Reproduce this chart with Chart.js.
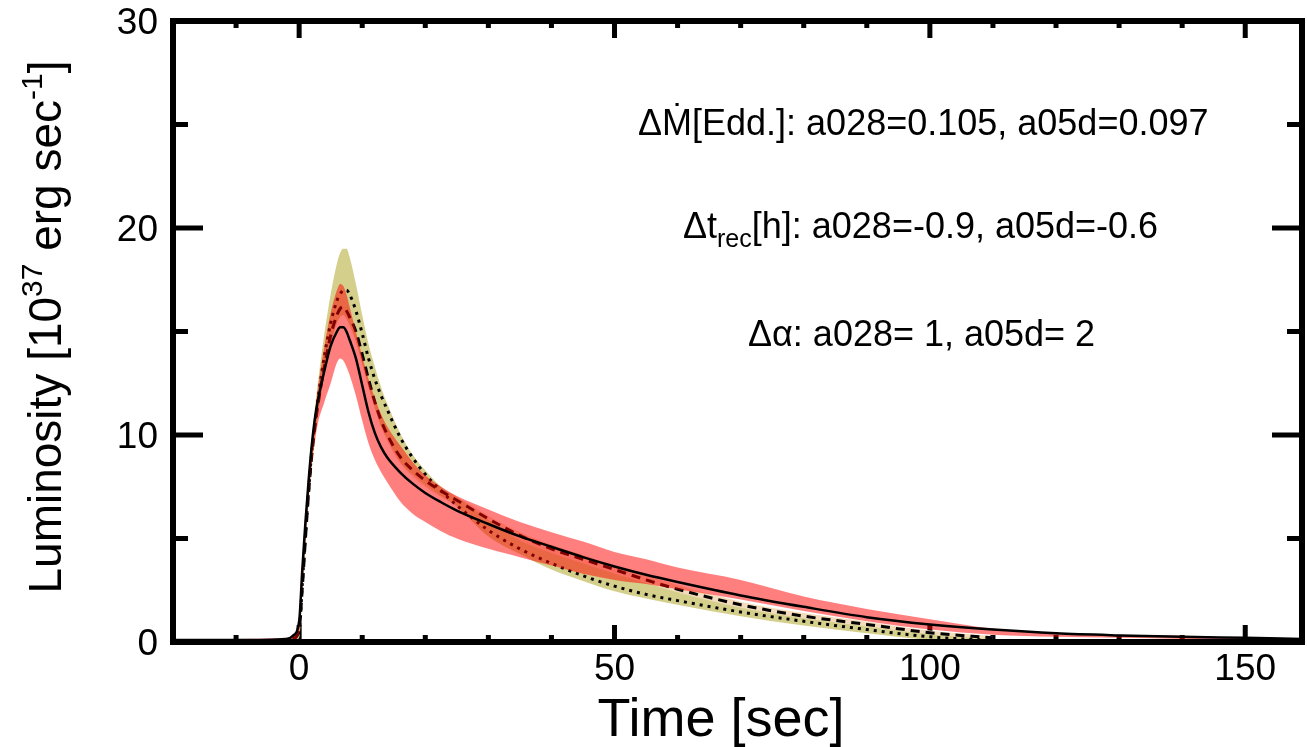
<!DOCTYPE html>
<html lang="en">
  <head>
    <meta charset="UTF-8" />
    <title>Luminosity vs Time</title>
    <script src="https://cdn.jsdelivr.net/npm/chart.js"></script>
    <style>
      body {
        margin: 0;
        background: #ffffff;
      }
      canvas {
        display: block;
      }
    </style>
  </head>
  <body>
    <canvas id="lcChart" width="1307" height="747"></canvas>

    <script>
      // time axis [sec]
      const time = [
        -20, -10, -2, -1, 0, 0.5, 1, 1.5, 2, 2.5, 3, 4, 5, 6, 6.5, 7, 7.5, 8,
        9, 10, 11, 12, 13, 14, 16, 18, 20, 22.5, 25, 30, 35, 40, 45, 50, 55,
        60, 70, 80, 90, 100, 110, 120, 130, 140, 150, 159,
      ];

      // luminosity [1e37 erg/s]
      const solidLum = [
        0.1, 0.1, 0.15, 0.3, 1.0, 3.5, 5.8, 7.8, 9.5, 10.8, 11.7, 13.1, 14.3,
        15.0, 15.2, 15.2, 15.0, 14.6, 13.7, 12.4, 11.1, 10.1, 9.4, 8.9, 8.2,
        7.65, 7.2, 6.75, 6.35, 5.7, 5.1, 4.6, 4.1, 3.65, 3.25, 2.9, 2.25, 1.7,
        1.2, 0.85, 0.6, 0.42, 0.32, 0.25, 0.2, 0.15,
      ];
      const dashedLum = [
        0.05, 0.05, 0.08, 0.15, 0.6, 2.6, 5.0, 7.2, 9.0, 10.4, 11.5, 13.3,
        14.8, 15.8, 16.1, 16.2, 16.0, 15.7, 15.0, 13.9, 12.7, 11.6, 10.7, 10.0,
        8.95, 8.3, 7.8, 7.3, 6.85, 5.95, 5.15, 4.5, 4.0, 3.5, 3.0, 2.55, 1.8,
        1.25, 0.85, 0.45, 0.2, null, null, null, null, null,
      ];
      const dottedLum = [
        0.05, 0.05, 0.08, 0.15, 0.5, 2.8, 5.2, 7.3, 9.2, 10.6, 11.8, 13.8,
        15.4, 16.5, 16.8, 17.0, 17.0, 16.8, 16.0, 14.9, 13.7, 12.7, 11.9, 11.2,
        9.9, 8.9, 8.1, 7.3, 6.6, 5.4, 4.5, 3.8, 3.2, 2.7, 2.3, 2.0, 1.45, 1.0,
        0.6, 0.25, 0.08, null, null, null, null, null,
      ];

      // uncertainty bands
      const redUpper = [
        0.15, 0.15, 0.2, 0.35, 1.0, 3.5, 5.9, 7.9, 9.7, 11.1, 12.3, 14.3, 15.9,
        17.0, 17.3, 17.2, 16.8, 16.2, 15.0, 13.8, 12.7, 11.8, 11.0, 10.4, 9.5,
        8.7, 8.05, 7.5, 7.05, 6.4, 5.8, 5.3, 4.85, 4.35, 4.0, 3.6, 3.0, 2.2,
        1.6, 1.1, 0.65, 0.45, 0.35, 0.3, 0.2, 0.15,
      ];
      const redLower = [
        0, 0, 0, 0.05, 0.4, 2.6, 5.0, 7.0, 8.6, 9.7, 10.6, 11.6, 12.5, 13.5,
        13.7, 13.6, 13.3, 12.9, 11.9, 10.7, 9.6, 8.8, 8.2, 7.7, 6.8, 6.2, 5.8,
        5.35, 5.0, 4.5, 4.1, 3.7, 3.3, 3.0, 2.8, 2.55, 2.05, 1.5, 1.0, 0.6,
        0.35, 0.25, 0.2, 0.15, 0.1, 0.08,
      ];
      const yellowUpper = [
        0.1, 0.1, 0.15, 0.3, 1.0, 3.4, 5.8, 8.0, 9.8, 11.3, 12.6, 14.9, 16.8,
        18.3, 18.8, 19.0, 19.0, 18.6, 17.3, 15.8, 14.4, 13.3, 12.3, 11.5, 10.1,
        9.05, 8.3, 7.5, 7.0, 5.9, 4.9, 4.3, 3.8, 3.3, 2.85, 2.4, 1.65, 1.15,
        0.75, 0.38, 0.15, 0.08, 0.05, 0.03, 0.02, 0.02,
      ];
      const yellowLower = [
        0, 0, 0, 0.05, 0.2, 2.2, 4.6, 6.7, 8.5, 9.9, 11.0, 12.9, 14.4, 15.4,
        15.7, 15.8, 15.6, 15.3, 14.5, 13.4, 12.3, 11.3, 10.4, 9.8, 8.7, 8.1,
        7.6, 7.05, 6.55, 5.1, 4.25, 3.5, 2.95, 2.45, 2.1, 1.8, 1.25, 0.8, 0.42,
        0.1, 0.03, 0, 0, 0, 0, 0,
      ];
      const wheatUpper = [
        0.05, 0.05, 0.08, 0.15, 0.6, 2.6, 5.0, 7.2, 9.0, 10.4, 11.5, 13.3,
        14.8, 15.8, 16.1, 16.2, 16.0, 15.7, 15.0, 13.9, 12.7, 11.6, 10.7, 10.0,
        8.95, 8.3, 7.8, 7.3, 7.0, 6.1, 5.3, 4.7, 4.2, 3.7, 3.2, 2.75, 1.95,
        1.4, 0.98, 0.55, 0.28, null, null, null, null, null,
      ];
      const wheatLower = [
        0, 0, 0, 0.05, 0.3, 2.3, 4.7, 6.9, 8.7, 10.1, 11.2, 13.0, 14.5, 15.5,
        15.8, 15.9, 15.7, 15.4, 14.7, 13.6, 12.4, 11.3, 10.4, 9.7, 8.65, 8.0,
        7.5, 7.0, 6.6, 5.6, 4.8, 4.2, 3.7, 3.2, 2.75, 2.3, 1.55, 1.05, 0.68,
        0.3, 0.1, null, null, null, null, null,
      ];

      const xTickLabels = [0, 50, 100, 150];
      const yTickLabels = [0, 10, 20, 30];
      const xMinorTicks = [-10, 10, 20, 30, 40, 60, 70, 80, 90, 110, 120, 130, 140];
      const yMinorTicks = [5, 15, 25];

      const FONT = "'Liberation Sans', Arial, sans-serif";

      function pts(arr) {
        return time.map((t, i) => ({ x: t, y: arr[i] }));
      }

      function lineSet(arr, dash, width) {
        return {
          data: pts(arr),
          borderColor: "#000000",
          borderWidth: width,
          borderDash: dash,
          fill: false,
          pointRadius: 0,
        };
      }

      function bandSet(arr, color, fillTo) {
        return {
          data: pts(arr),
          borderWidth: 0,
          borderColor: "rgba(0,0,0,0)",
          backgroundColor: color,
          fill: fillTo,
          pointRadius: 0,
        };
      }

      // draw text made of runs (for sub/superscripts)
      function drawRuns(ctx, x, y, runs) {
        let cx = x;
        runs.forEach((r) => {
          ctx.font = r.size + "px " + FONT;
          ctx.fillText(r.text, cx, y + (r.dy || 0));
          cx += ctx.measureText(r.text).width;
        });
        return cx - x;
      }
      function runsWidth(ctx, runs) {
        let w = 0;
        runs.forEach((r) => {
          ctx.font = r.size + "px " + FONT;
          w += ctx.measureText(r.text).width;
        });
        return w;
      }

      const framePlugin = {
        id: "frame",
        beforeDatasetsDraw(chart) {
          const { ctx, chartArea: a, scales } = chart;
          const xs = scales.x;
          const ys = scales.y;
          ctx.save();
          ctx.fillStyle = "#000";
          xTickLabels.forEach((v) => {
            const p = xs.getPixelForValue(v);
            ctx.fillRect(p - 2.5, a.bottom - 17, 5, 17);
            ctx.fillRect(p - 2.5, a.top, 5, 17);
          });
          xMinorTicks.forEach((v) => {
            const p = xs.getPixelForValue(v);
            ctx.fillRect(p - 2.5, a.bottom - 7, 5, 7);
            ctx.fillRect(p - 2.5, a.top, 5, 7);
          });
          yTickLabels.forEach((v) => {
            const p = ys.getPixelForValue(v);
            ctx.fillRect(a.left, p - 2.5, 30, 5);
            ctx.fillRect(a.right - 30, p - 2.5, 30, 5);
          });
          yMinorTicks.forEach((v) => {
            const p = ys.getPixelForValue(v);
            ctx.fillRect(a.left, p - 2.5, 15, 5);
            ctx.fillRect(a.right - 15, p - 2.5, 15, 5);
          });
          ctx.restore();
        },
        afterDatasetsDraw(chart) {
          const { ctx, chartArea: a, scales } = chart;
          const xs = scales.x;
          const ys = scales.y;
          ctx.save();
          ctx.strokeStyle = "#000";
          ctx.lineWidth = 6;
          ctx.strokeRect(a.left, a.top, a.right - a.left, a.bottom - a.top);

          ctx.fillStyle = "#000";
          ctx.font = "37px " + FONT;
          ctx.textAlign = "center";
          ctx.textBaseline = "alphabetic";
          xTickLabels.forEach((v) => {
            ctx.fillText(String(v), xs.getPixelForValue(v), 680);
          });
          ctx.textAlign = "right";
          yTickLabels.forEach((v) => {
            ctx.fillText(String(v), 158, ys.getPixelForValue(v) + 13);
          });

          // x title
          ctx.textAlign = "center";
          ctx.font = "54px " + FONT;
          ctx.fillText("Time [sec]", 721, 736);

          // y title (rotated)
          ctx.textAlign = "left";
          const yRuns = [
            { text: "Luminosity [10", size: 46 },
            { text: "37", size: 30, dy: -19 },
            { text: " erg sec", size: 46 },
            { text: "-1", size: 30, dy: -19 },
            { text: "]", size: 46 },
          ];
          ctx.save();
          ctx.translate(61, 327);
          ctx.rotate(-Math.PI / 2);
          drawRuns(ctx, -runsWidth(ctx, yRuns) / 2, 0, yRuns);
          ctx.restore();

          // annotation
          drawRuns(ctx, 638, 135, [
            { text: "\u0394\u1E40[Edd.]: a028=0.105, a05d=0.097", size: 36 },
          ]);
          drawRuns(ctx, 683, 238, [
            { text: "\u0394t", size: 36 },
            { text: "rec", size: 25, dy: 9 },
            { text: "[h]: a028=-0.9, a05d=-0.6", size: 36 },
          ]);
          drawRuns(ctx, 748, 346, [
            { text: "\u0394\u03B1: a028= 1, a05d= 2", size: 36 },
          ]);
          ctx.restore();
        },
      };

      // first dataset is drawn on top
      const datasets = [
        lineSet(solidLum, [], 2.5),
        bandSet(redUpper, "rgba(255,0,0,0.5)", "+1"),
        bandSet(redLower, "rgba(0,0,0,0)", false),
        lineSet(dashedLum, [9, 6], 3),
        lineSet(dottedLum, [3, 5], 3),
        bandSet(yellowUpper, "#d5cf8c", "+1"),
        bandSet(yellowLower, "rgba(0,0,0,0)", false),
        bandSet(wheatUpper, "#f3dcbc", "+1"),
        bandSet(wheatLower, "rgba(0,0,0,0)", false),
      ];

      new Chart(document.getElementById("lcChart"), {
        type: "line",
        data: { datasets: datasets },
        options: {
          responsive: false,
          animation: false,
          layout: { padding: { left: 173, right: 5, top: 21, bottom: 105 } },
          elements: { line: { cubicInterpolationMode: "monotone" } },
          plugins: {
            legend: { display: false },
            tooltip: { enabled: false },
          },
          scales: {
            x: { type: "linear", min: -20, max: 159, display: false },
            y: { type: "linear", min: 0, max: 30, display: false },
          },
        },
        plugins: [framePlugin],
      });
    </script>
  </body>
</html>
